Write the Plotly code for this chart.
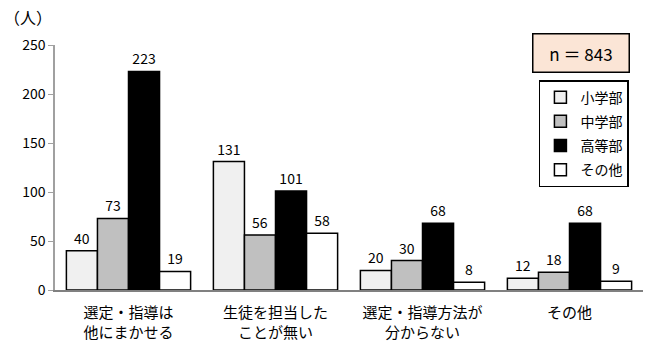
import plotly.graph_objects as go

categories = ["選定・指導は<br>他にまかせる", "生徒を担当した<br>ことが無い", "選定・指導方法が<br>分からない", "その他"]
series_names = ["小学部", "中学部", "高等部", "その他"]
values = [
    [40, 131, 20, 12],
    [73, 56, 30, 18],
    [223, 101, 68, 68],
    [19, 58, 8, 9],
]
colors = ["#f0f0f0", "#c0c0c0", "#000000", "#ffffff"]
y_ticks = [0, 50, 100, 150, 200, 250]

FONT = "Noto Sans CJK JP"

fig = go.Figure()
for i, (name, vals) in enumerate(zip(series_names, values)):
    fig.add_trace(go.Bar(
        x=categories, y=vals, name=name,
        marker=dict(color=colors[i], line=dict(color="#000000", width=1.5)),
        text=[str(v) for v in vals], textposition="outside",
        textfont=dict(size=14, color="#000000", family=FONT),
        cliponaxis=False, legendgroup=f"g{i}",
    ))

fig.update_layout(
    width=662, height=356,
    margin=dict(l=55, r=19, t=45, b=66),
    paper_bgcolor="white", plot_bgcolor="white",
    barmode="group", bargap=0.155, bargroupgap=0,
    font=dict(family=FONT, size=13, color="#000000"),
    showlegend=True,
    legend=dict(
        x=0.823, y=0.857, xanchor="left", yanchor="top",
        bordercolor="#000000", borderwidth=1.5, bgcolor="white",
        font=dict(size=14, family=FONT), tracegroupgap=3,
        itemwidth=30,
    ),
    xaxis=dict(
        showline=True, linecolor="#808080", linewidth=2,
        ticks="", tickfont=dict(size=15, family=FONT),
        showgrid=False, automargin=False, ticklabelstandoff=8,
    ),
    yaxis=dict(
        range=[0, 250], tickvals=y_ticks,
        showline=True, linecolor="#a0a0a0", linewidth=1.5,
        ticks="outside", ticklen=5, tickcolor="#a0a0a0",
        showgrid=False, zeroline=False, automargin=False,
        tickfont=dict(size=14, family=FONT),
    ),
    annotations=[
        dict(text="（人）", xref="paper", yref="paper", x=-0.09, y=1.115,
             xanchor="left", yanchor="middle", showarrow=False,
             font=dict(size=16, family=FONT)),
        dict(text="n ＝ 843", xref="paper", yref="paper", x=0.895, y=0.969,
             xanchor="center", yanchor="middle", showarrow=False,
             bgcolor="#fbe5d6", bordercolor="#000000", borderwidth=1.5,
             width=93, height=35,
             font=dict(size=17, family=FONT)),
    ],
)

fig.write_html("out.html", config={"displayModeBar": False},
               post_script="document.body.style.margin='0';")
